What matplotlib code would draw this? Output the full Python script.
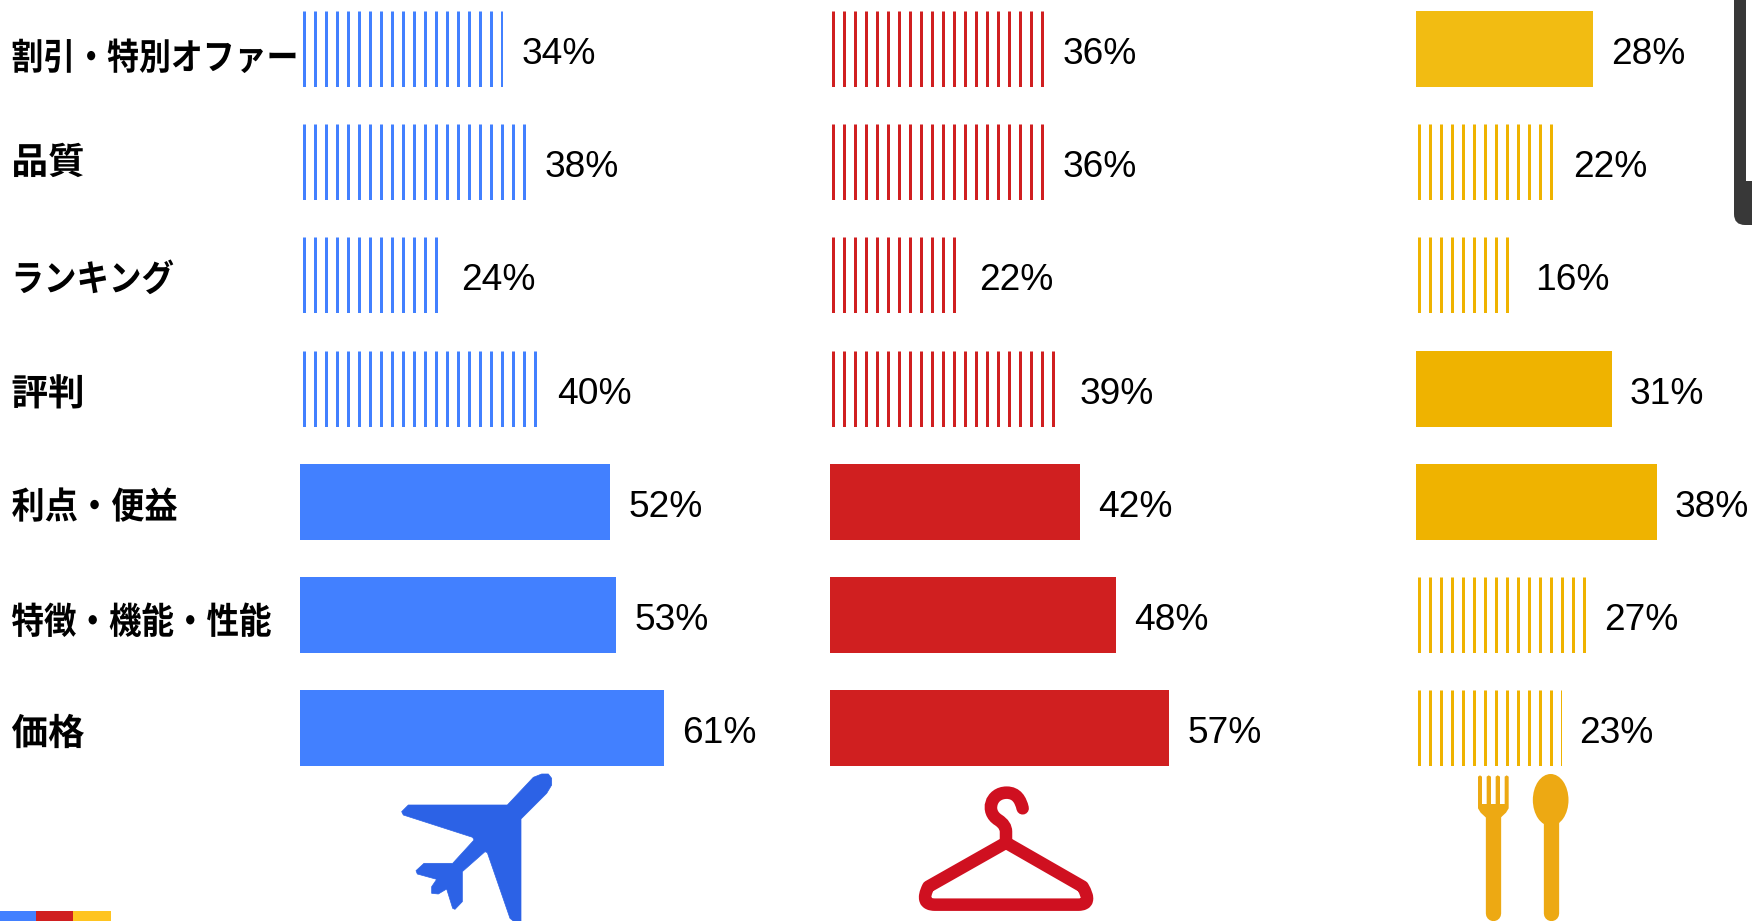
import numpy as np
import matplotlib
matplotlib.use("Agg")
import matplotlib.pyplot as plt
from matplotlib.path import Path
from matplotlib.patches import PathPatch, Rectangle, Polygon, Ellipse, FancyBboxPatch
from matplotlib.patheffects import AbstractPathEffect
from matplotlib.transforms import Affine2D

categories = ["割引・特別オファー", "品質", "ランキング", "評判", "利点・便益", "特徴・機能・性能", "価格"]
travel = [34, 38, 24, 40, 52, 53, 61]
fashion = [36, 36, 22, 39, 42, 48, 57]
food = [28, 22, 16, 31, 38, 27, 23]
travel_solid = [False, False, False, False, True, True, True]
fashion_solid = [False, False, False, False, True, True, True]
food_solid = [True, False, False, True, True, False, False]

W, H = 1752, 921
PX = 72 / 100
BLUE, RED, GOLD = "#4280FF", "#D01F20", "#EFB300"
ROW_PITCH, ROW_TOP, BAR_H = 113.2, 49.0, 76.0
AX_BOTTOM = 785.0

plt.rcParams["font.family"] = ["Liberation Sans", "DejaVu Sans"]
fig = plt.figure(figsize=(W / 100, H / 100), dpi=100, facecolor="white")


class Squeeze(AbstractPathEffect):
    def __init__(self, x0, sx):
        super().__init__()
        self.x0, self.sx = x0, sx

    def draw_path(self, renderer, gc, tpath, affine, rgbFace=None):
        a = affine + Affine2D().translate(-self.x0, 0).scale(self.sx, 1).translate(self.x0, 0)
        renderer.draw_path(gc, tpath, a, rgbFace)


def panel(values, solid, color, left, scale, stripe_off, label_gap, colors=None):
    width = 100 * scale
    ax = fig.add_axes([left / W, 1 - AX_BOTTOM / H, width / W, AX_BOTTOM / H])
    ax.set_xlim(0, 100)
    ax.set_ylim(6.5, -ROW_TOP / ROW_PITCH)
    ax.axis("off")
    ax.patch.set_alpha(0)
    h = BAR_H / ROW_PITCH
    for i, (v, s) in enumerate(zip(values, solid)):
        c = colors[i] if colors else color
        bar = ax.barh(i, v, height=h, color=c if s else "none", edgecolor="none")[0]
        if not s:
            xs = np.arange(stripe_off, v * scale, 11.0) / scale
            lc = ax.vlines(xs, i - h / 2, i + h / 2, color=c, lw=3.0 * PX, capstyle="butt")
            lc.set_clip_path(bar)
        ax.annotate(f"{v}%", xy=(v, i), xytext=(label_gap * PX, -5.5 * PX),
                    textcoords="offset points", ha="left", va="center",
                    fontsize=26.7, color="black", annotation_clip=False)
    return ax


ax_travel = panel(travel, travel_solid, BLUE, 300, 5.96, 4.4, 18.5)
ax_fashion = panel(fashion, fashion_solid, RED, 829.6, 5.96, 3, 18)
food_colors = ["#F2BC12"] + [GOLD] * 6
ax_food = panel(food, food_solid, GOLD, 1415.6, 6.35, 3, 17.5, colors=food_colors)

label_squeeze = [0.873, 1.0, 0.89, 1.0, 0.91, 0.89, 1.0]
label_dy = [10, 1, 5, 6, 6, 8, 6]
for i, (cat, sx, dy) in enumerate(zip(categories, label_squeeze, label_dy)):
    ax_travel.annotate(cat, xy=(0, i), xytext=(-288.5 * PX, -dy * PX), textcoords="offset points",
                       ha="left", va="center", fontsize=26.3, fontweight="bold",
                       family=["Noto Sans CJK JP", "DejaVu Sans"], color="black",
                       annotation_clip=False, path_effects=[Squeeze(11, sx)])

# Overlay in pixel coordinates for the pictograms and page furniture
ov = fig.add_axes([0, 0, 1, 1])
ov.set_xlim(0, W)
ov.set_ylim(H, 0)
ov.axis("off")
ov.patch.set_alpha(0)

# colour strip, bottom left
for x0, x1, c in [(0, 36, BLUE), (36, 73, RED), (73, 111, "#FFC420")]:
    ov.add_patch(Rectangle((x0, 911), x1 - x0, 10, color=c, lw=0))

# dark device edge, top right
ov.add_patch(FancyBboxPatch((1734, -40), 60, 265, boxstyle="round,pad=0,rounding_size=11",
                            fc="#383838", ec="none", mutation_aspect=1))
ov.add_patch(Rectangle((1746, -5), 10, 186, fc="white", ec="none"))


def z(pts, ox, oy):
    return [(ox + x / 3, oy + y / 3) for x, y in pts]


# airplane
plane = [(515, 85), (505, 72), (485, 72), (460, 82), (382, 165), (85, 165), (65, 185), (70, 195),
         (278, 262), (282, 270), (218, 340), (132, 340), (108, 362), (112, 372), (170, 388),
         (155, 410), (155, 430), (175, 432), (200, 417), (218, 475), (225, 478), (247, 455),
         (247, 365), (315, 305), (322, 308), (390, 505), (400, 513), (423, 513), (423, 207),
         (500, 130), (515, 105)]
ov.add_patch(Polygon(z(plane, 380, 750), closed=True, fc="#2C62E6", ec="#2C62E6", lw=0.5, joinstyle="round"))

# hanger
HC = "#CF1020"
tri = z([(318, 218), (85, 350), (58, 404), (105, 404), (535, 404), (580, 404), (548, 350), (318, 218)], 900, 770)
tri_codes = [Path.MOVETO, Path.LINETO, Path.CURVE3, Path.CURVE3, Path.LINETO, Path.CURVE3, Path.CURVE3, Path.LINETO]
ov.add_patch(PathPatch(Path(tri, tri_codes), fc="none", ec=HC, lw=12.5 * PX, joinstyle="round"))
hook = z([(318, 213), (318, 185), (318, 165), (295, 150), (255, 125), (272, 68), (320, 68),
          (350, 68), (362, 90), (368, 115)], 900, 770)
hook_codes = [Path.MOVETO, Path.LINETO, Path.CURVE3, Path.CURVE3, Path.CURVE4, Path.CURVE4, Path.CURVE4,
              Path.CURVE4, Path.CURVE4, Path.CURVE4]
ov.add_patch(PathPatch(Path(hook, hook_codes), fc="none", ec=HC, lw=12.5 * PX, capstyle="round"))

# fork and spoon
FC = "#EDA913"
handle_w = 15.3 * PX
(fx0, fy0), (fx1, fy1) = z([(280, 400), (280, 700)], 1400, 680)
ov.plot([fx0, fx1], [fy0, fy1], color=FC, lw=handle_w, solid_capstyle="round")
fork_head = [(234, 290), (240, 286), (246, 290), (246, 372), (260, 372), (260, 290), (266, 286), (273, 290),
             (273, 372), (287, 372), (287, 290), (293, 286), (300, 290), (300, 372), (314, 372), (314, 290),
             (320, 286), (326, 290), (326, 385), (318, 398), (303, 412), (257, 412), (242, 398), (234, 385)]
ov.add_patch(Polygon(z(fork_head, 1400, 680), closed=True, fc=FC, ec="none"))
(sx0, sy0), (sx1, sy1) = z([(453, 400), (453, 700)], 1400, 680)
ov.plot([sx0, sx1], [sy0, sy1], color=FC, lw=handle_w, solid_capstyle="round")
(cx, cy), = z([(452, 360)], 1400, 680)
ov.add_patch(Ellipse((cx, cy), 107 / 3, 156 / 3, fc=FC, ec="none"))

fig.savefig("out.png", dpi=100)
